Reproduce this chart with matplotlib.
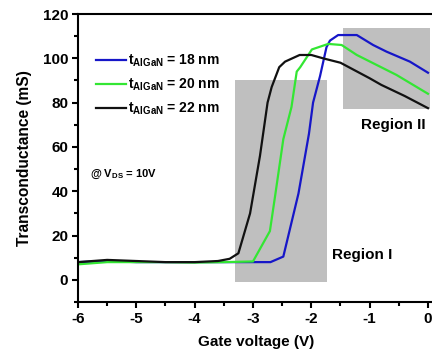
import numpy as np
import matplotlib
matplotlib.use("Agg")
import matplotlib.pyplot as plt
from matplotlib.patches import Rectangle

plt.rcParams['font.family'] = ['Liberation Sans', 'DejaVu Sans']
plt.rcParams['font.weight'] = 'bold'
plt.rcParams['axes.unicode_minus'] = False
plt.rcParams['mathtext.fontset'] = 'custom'
plt.rcParams['mathtext.rm'] = 'Liberation Sans:bold'
plt.rcParams['mathtext.bf'] = 'Liberation Sans:bold'

# transconductance vs gate voltage for three barrier thicknesses
vg_18 = [-6, -5.5, -5, -4.5, -4, -3.5, -3, -2.7, -2.48, -2.22, -2.04, -1.97,
         -1.85, -1.74, -1.68, -1.54, -1.22, -0.94, -0.71, -0.31, 0]
gm_18 = [8, 8.5, 8, 8, 8, 8, 8, 8, 10.5, 39, 66, 80,
         92, 105, 108, 110.5, 110.5, 106, 103, 98.5, 93.5]

vg_20 = [-6, -5.5, -5, -4.5, -4, -3.5, -3.0, -2.71, -2.62, -2.48, -2.34, -2.25,
         -2.19, -1.99, -1.71, -1.48, -1.22, -0.54, 0]
gm_20 = [7, 8, 8, 8, 7.8, 8, 8.3, 22, 38, 63.5, 78, 94,
         96, 104, 106.5, 106, 101.5, 92.5, 84]

vg_22 = [-6, -5.5, -5, -4.5, -4, -3.6, -3.4, -3.25, -3.05, -2.88, -2.75, -2.68,
         -2.55, -2.45, -2.2, -2.0, -1.8, -1.5, -1.0, -0.8, -0.4, 0]
gm_22 = [8, 9, 8.5, 8, 8, 8.5, 9.5, 12, 30, 56, 80, 87,
         96, 98.5, 101.5, 101.5, 100, 98, 91, 88, 83, 77.5]

labels = [r"t$_{\mathrm{AlGaN}}$ = 18 nm",
          r"t$_{\mathrm{AlGaN}}$ = 20 nm",
          r"t$_{\mathrm{AlGaN}}$ = 22 nm"]
colors = ["#1616c8", "#33e633", "#111111"]

# shaded regions: (x0, x1, y0, y1)
region1 = (-3.3, -1.73, -1, 90)
region2 = (-1.45, 0.03, 77, 113.5)

fig = plt.figure(figsize=(4.32, 3.6), dpi=100)
ax = fig.add_axes([78/432, 58/360, 355.8/432, 288/360])

for (x0, x1, y0, y1) in (region1, region2):
    ax.add_patch(Rectangle((x0, y0), x1 - x0, y1 - y0, facecolor="#bfbfbf",
                           edgecolor="none", zorder=0))

for vg, gm, lab, c in zip([vg_18, vg_20, vg_22], [gm_18, gm_20, gm_22], labels, colors):
    ax.plot(vg, gm, color=c, lw=1.6, label=lab, zorder=2)

ax.set_xlim(-6, 0.1)
ax.set_ylim(-10, 120)
ax.set_xticks(np.arange(-6, 1, 1))
ax.set_xticks(np.arange(-5.5, 0, 1), minor=True)
ax.set_yticks(np.arange(0, 121, 20))
ax.set_yticks(np.arange(-10, 121, 20), minor=True)

for s in ['left', 'bottom', 'top']:
    ax.spines[s].set_linewidth(1.5)
ax.spines['right'].set_visible(False)
ax.tick_params(which='major', direction='out', length=4, width=1.5, labelsize=11, pad=3)
ax.tick_params(which='minor', direction='out', length=3, width=1.5)
ax.tick_params(top=False, right=False)

ax.set_xlabel("Gate voltage (V)", fontsize=11, fontweight='bold', labelpad=7)
ax.set_ylabel("Transconductance (mS)", fontsize=11.2, fontweight='bold', labelpad=8)

leg = ax.legend(loc='upper left', bbox_to_anchor=(0.05, 0.865), frameon=False,
                fontsize=10, handlelength=2.2, handletextpad=0.15, labelspacing=0.55,
                borderpad=0, borderaxespad=0)

ax.text(-5.8, 47.5, r"@ V$_{\mathrm{DS}}$ = 10V", fontsize=8, va='center', ha='left')
ax.text(-1.64, 11.3, "Region I", fontsize=11, va='center', ha='left')
ax.text(-1.15, 70, "Region II", fontsize=11, va='center', ha='left')

fig.savefig("out.png", dpi=100)
